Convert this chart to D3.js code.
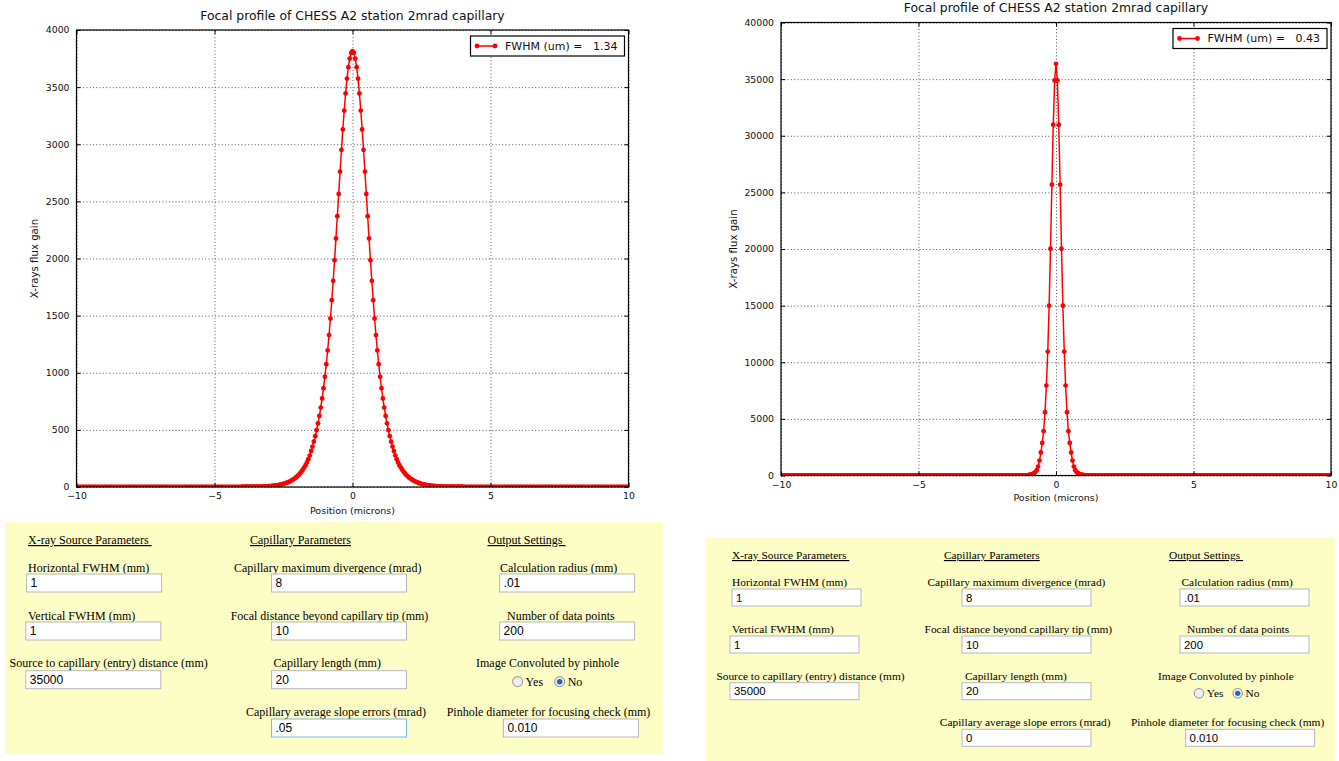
<!DOCTYPE html>
<html>
<head>
<meta charset="utf-8">
<script src="https://cdn.jsdelivr.net/npm/d3@7"></script>
<style>
	body { margin: 0; background: #fff; }
	svg text { white-space: pre; }
</style>
</head>
<body>
<div id="page"></div>
<script>
// focal plane positions (microns): one sample every 0.05 um from -10 to 10
const positions = d3.range(-200, 201).map(i => i / 20)

// flux gain (slope errors .05 mrad)
const gainWithSlope = [
	0, 0, 0, 0, 0, 0, 0, 0, 0, 0,
	0, 0, 0, 0, 0, 0, 0, 0, 0, 0,
	0, 0, 0, 0, 0, 0, 0, 0, 0, 0,
	0, 0, 0, 0, 0, 0, 0, 0, 0, 0,
	0, 0, 0, 0, 0, 0, 0, 0, 0, 0,
	0, 0, 0, 0, 0, 0, 0, 0, 0, 0,
	0, 0, 0, 0, 0, 0, 0, 0, 0, 0,
	0, 0, 0, 0, 0, 0, 0, 0, 0, 0,
	0, 0, 0, 0, 0, 0, 0, 0, 0, 0,
	0, 0, 0, 0, 0, 0, 0, 0, 0, 0,
	1, 1, 1, 1, 1, 1, 1, 1, 1, 1,
	1, 1, 1, 1, 1, 1, 1, 1, 1, 1,
	2, 2, 2, 2, 2, 2, 2, 2, 2, 2,
	2, 3, 3, 3, 4, 4, 5, 5, 6, 7,
	8, 9, 10, 11, 13, 15, 17, 19, 22, 25,
	28, 32, 36, 40, 45, 51, 58, 66, 74, 83,
	93, 105, 119, 134, 151, 170, 191, 215, 243, 275,
	315, 354, 397, 445, 498, 557, 622, 695, 775, 865,
	965, 1075, 1195, 1330, 1475, 1635, 1805, 1985, 2175, 2370,
	2565, 2760, 2950, 3130, 3295, 3445, 3575, 3675, 3750, 3800,
	3815,
	3800, 3750, 3675, 3575, 3445, 3295, 3130, 2950, 2760, 2565,
	2370, 2175, 1985, 1805, 1635, 1475, 1330, 1195, 1075, 965,
	865, 775, 695, 622, 557, 498, 445, 397, 354, 315,
	275, 243, 215, 191, 170, 151, 134, 119, 105, 93,
	83, 74, 66, 58, 51, 45, 40, 36, 32, 28,
	25, 22, 19, 17, 15, 13, 11, 10, 9, 8,
	7, 6, 5, 5, 4, 4, 3, 3, 3, 2,
	2, 2, 2, 2, 2, 2, 2, 2, 2, 2,
	1, 1, 1, 1, 1, 1, 1, 1, 1, 1,
	1, 1, 1, 1, 1, 1, 1, 1, 1, 1,
	0, 0, 0, 0, 0, 0, 0, 0, 0, 0,
	0, 0, 0, 0, 0, 0, 0, 0, 0, 0,
	0, 0, 0, 0, 0, 0, 0, 0, 0, 0,
	0, 0, 0, 0, 0, 0, 0, 0, 0, 0,
	0, 0, 0, 0, 0, 0, 0, 0, 0, 0,
	0, 0, 0, 0, 0, 0, 0, 0, 0, 0,
	0, 0, 0, 0, 0, 0, 0, 0, 0, 0,
	0, 0, 0, 0, 0, 0, 0, 0, 0, 0,
	0, 0, 0, 0, 0, 0, 0, 0, 0, 0,
	0, 0, 0, 0, 0, 0, 0, 0, 0, 0
]

// flux gain (slope errors 0)
const gainNoSlope = [
	0, 0, 0, 0, 0, 0, 0, 0, 0, 0,
	0, 0, 0, 0, 0, 0, 0, 0, 0, 0,
	0, 0, 0, 0, 0, 0, 0, 0, 0, 0,
	0, 0, 0, 0, 0, 0, 0, 0, 0, 0,
	0, 0, 0, 0, 0, 0, 0, 0, 0, 0,
	0, 0, 0, 0, 0, 0, 0, 0, 0, 0,
	0, 0, 0, 0, 0, 0, 0, 0, 0, 0,
	0, 0, 0, 0, 0, 0, 0, 0, 0, 0,
	0, 0, 0, 0, 0, 0, 0, 0, 0, 0,
	0, 0, 0, 0, 0, 0, 0, 0, 0, 0,
	0, 0, 0, 0, 0, 0, 0, 0, 0, 0,
	0, 0, 0, 0, 0, 0, 0, 0, 0, 0,
	0, 0, 0, 0, 0, 0, 0, 0, 0, 0,
	0, 0, 0, 0, 0, 0, 0, 0, 0, 0,
	0, 0, 0, 0, 0, 0, 0, 0, 0, 0,
	0, 0, 0, 0, 0, 0, 0, 0, 0, 0,
	0, 0, 0, 0, 0, 0, 0, 0, 0, 0,
	0, 0, 0, 0, 1, 2, 4, 8, 15, 25,
	40, 65, 95, 140, 200, 300, 470, 790, 1320, 2030,
	2880, 3910, 5590, 7940, 10940, 15000, 20020, 25680, 30970, 34880,
	36350,
	34880, 30970, 25680, 20020, 15000, 10940, 7940, 5590, 3910, 2880,
	2030, 1320, 790, 470, 300, 200, 140, 95, 65, 40,
	25, 15, 8, 4, 2, 1, 0, 0, 0, 0,
	0, 0, 0, 0, 0, 0, 0, 0, 0, 0,
	0, 0, 0, 0, 0, 0, 0, 0, 0, 0,
	0, 0, 0, 0, 0, 0, 0, 0, 0, 0,
	0, 0, 0, 0, 0, 0, 0, 0, 0, 0,
	0, 0, 0, 0, 0, 0, 0, 0, 0, 0,
	0, 0, 0, 0, 0, 0, 0, 0, 0, 0,
	0, 0, 0, 0, 0, 0, 0, 0, 0, 0,
	0, 0, 0, 0, 0, 0, 0, 0, 0, 0,
	0, 0, 0, 0, 0, 0, 0, 0, 0, 0,
	0, 0, 0, 0, 0, 0, 0, 0, 0, 0,
	0, 0, 0, 0, 0, 0, 0, 0, 0, 0,
	0, 0, 0, 0, 0, 0, 0, 0, 0, 0,
	0, 0, 0, 0, 0, 0, 0, 0, 0, 0,
	0, 0, 0, 0, 0, 0, 0, 0, 0, 0,
	0, 0, 0, 0, 0, 0, 0, 0, 0, 0,
	0, 0, 0, 0, 0, 0, 0, 0, 0, 0,
	0, 0, 0, 0, 0, 0, 0, 0, 0, 0
]

// tick labels and chart text
const xTicks = [-10, -5, 0, 5, 10]
const yTicksLeft = [0, 500, 1000, 1500, 2000, 2500, 3000, 3500, 4000]
const yTicksRight = [0, 5000, 10000, 15000, 20000, 25000, 30000, 35000, 40000]
const fwhmValues = ["1.34", "0.43"]
const chartTitle = "Focal profile of CHESS A2 station 2mrad capillary"
const xAxisTitle = "Position (microns)"
const yAxisTitle = "X-rays flux gain"

// form contents under each chart
const sectionTitles = ["X-ray Source Parameters ", "Capillary Parameters", "Output Settings "]
const fieldLabels = [
	["Horizontal FWHM (mm)", "Capillary maximum divergence (mrad)", "Calculation radius (mm)"],
	["Vertical FWHM (mm)", "Focal distance beyond capillary tip (mm)", "Number of data points"],
	["Source to capillary (entry) distance (mm)", "Capillary length (mm)", "Image Convoluted by pinhole"],
	[null, "Capillary average slope errors (mrad)", "Pinhole diameter for focusing check (mm)"]
]
const fieldValuesLeft = [["1", "8", ".01"], ["1", "10", "200"], ["35000", "20", null], [null, ".05", "0.010"]]
const fieldValuesRight = [["1", "8", ".01"], ["1", "10", "200"], ["35000", "20", null], [null, "0", "0.010"]]
const pinholeOptions = ["Yes", "No"]
const pinholeChoice = "No"

const svg = d3
	.select("#page")
	.append("svg")
	.attr("width", 1339)
	.attr("height", 761)

const chartFont = "DejaVu Sans"

// draws one matplotlib-like profile plot
function drawProfile(values, cfg) {
	let xScale = d3.scaleLinear().domain([-10, 10]).range([cfg.left, cfg.right])
	let yScale = d3.scaleLinear().domain([0, cfg.yMax]).range([cfg.bottom, cfg.top])
	let width = cfg.right - cfg.left
	let height = cfg.bottom - cfg.top

	let chart = svg.append("g")

	chart.append("clipPath")
		.attr("id", cfg.id + "-clip")
		.append("rect")
		.attr("x", cfg.left)
		.attr("y", cfg.top)
		.attr("width", width)
		.attr("height", height)

	// dotted grid
	chart.append("g")
		.attr("transform", `translate(0, ${cfg.bottom})`)
		.call(d3.axisBottom(xScale).tickValues(xTicks).tickSize(-height).tickFormat(""))
		.call(g => g.select(".domain").remove())
		.selectAll("line")
		.attr("stroke", "#555")
		.attr("stroke-dasharray", "1,2.3")

	chart.append("g")
		.attr("transform", `translate(${cfg.left}, 0)`)
		.call(d3.axisLeft(yScale).tickValues(cfg.yTicks).tickSize(-width).tickFormat(""))
		.call(g => g.select(".domain").remove())
		.selectAll("line")
		.attr("stroke", "#555")
		.attr("stroke-dasharray", "1,2.3")

	// profile line with dot markers
	let points = positions.map((p, i) => [p, values[i]])
	let plot = chart.append("g").attr("clip-path", `url(#${cfg.id}-clip)`)

	plot.append("path")
		.datum(points)
		.attr("d", d3.line().x(d => xScale(d[0])).y(d => yScale(d[1])))
		.attr("fill", "none")
		.attr("stroke", "#ff0000")
		.attr("stroke-width", 1.5)

	plot.selectAll("circle")
		.data(points)
		.join("circle")
		.attr("cx", d => xScale(d[0]))
		.attr("cy", d => yScale(d[1]))
		.attr("r", 2.4)
		.attr("fill", "#ff0000")

	// frame
	chart.append("rect")
		.attr("x", cfg.left)
		.attr("y", cfg.top)
		.attr("width", width)
		.attr("height", height)
		.attr("fill", "none")
		.attr("stroke", "#000")
		.attr("stroke-width", 1.2)

	// inward ticks on all four sides
	let styleAxis = g => {
		g.select(".domain").remove()
		g.attr("font-family", chartFont).attr("font-size", 9.3)
		g.selectAll("line").attr("stroke", "#000")
		g.selectAll("text").attr("fill", "#111")
	}

	chart.append("g")
		.attr("transform", `translate(0, ${cfg.bottom})`)
		.call(d3.axisBottom(xScale).tickValues(xTicks).tickSizeInner(-4).tickSizeOuter(0).tickPadding(5.5).tickFormat(d3.format("d")))
		.call(styleAxis)

	chart.append("g")
		.attr("transform", `translate(0, ${cfg.top})`)
		.call(d3.axisTop(xScale).tickValues(xTicks).tickSizeInner(-4).tickSizeOuter(0).tickFormat(""))
		.call(styleAxis)

	chart.append("g")
		.attr("transform", `translate(${cfg.left}, 0)`)
		.call(d3.axisLeft(yScale).tickValues(cfg.yTicks).tickSizeInner(-4).tickSizeOuter(0).tickPadding(7).tickFormat(d3.format("d")))
		.call(styleAxis)

	chart.append("g")
		.attr("transform", `translate(${cfg.right}, 0)`)
		.call(d3.axisRight(yScale).tickValues(cfg.yTicks).tickSizeInner(-4).tickSizeOuter(0).tickFormat(""))
		.call(styleAxis)

	// titles
	chart.append("text")
		.attr("x", (cfg.left + cfg.right) / 2)
		.attr("y", cfg.titleY)
		.attr("text-anchor", "middle")
		.attr("font-family", chartFont)
		.attr("font-size", 12.4)
		.attr("fill", "#111")
		.text(chartTitle)

	chart.append("text")
		.attr("x", (cfg.left + cfg.right) / 2)
		.attr("y", cfg.xLabelY)
		.attr("text-anchor", "middle")
		.attr("font-family", chartFont)
		.attr("font-size", 9.5)
		.attr("fill", "#111")
		.text(xAxisTitle)

	chart.append("text")
		.attr("transform", `translate(${cfg.yLabelX}, ${(cfg.top + cfg.bottom) / 2}) rotate(-90)`)
		.attr("dy", "0.35em")
		.attr("text-anchor", "middle")
		.attr("font-family", chartFont)
		.attr("font-size", 10.2)
		.attr("fill", "#111")
		.text(yAxisTitle)

	// legend
	let legend = chart.append("g")
		.attr("transform", `translate(${cfg.right - 4 - 154}, ${cfg.top + 6})`)

	legend.append("rect")
		.attr("width", 154)
		.attr("height", 20)
		.attr("fill", "#fff")
		.attr("stroke", "#000")
		.attr("stroke-width", 1.2)

	legend.append("line")
		.attr("x1", 6.5)
		.attr("x2", 24.5)
		.attr("y1", 10)
		.attr("y2", 10)
		.attr("stroke", "#ff0000")
		.attr("stroke-width", 1.5)

	legend.selectAll("circle")
		.data([6.5, 24.5])
		.join("circle")
		.attr("cx", d => d)
		.attr("cy", 10)
		.attr("r", 2.4)
		.attr("fill", "#ff0000")

	legend.append("text")
		.attr("x", 34.5)
		.attr("y", 10)
		.attr("dy", "0.36em")
		.attr("font-family", chartFont)
		.attr("font-size", 11)
		.attr("fill", "#111")
		.text(`FWHM (um) =   ${cfg.fwhm}`)
}

// draws the yellow parameter form
function drawForm(values, lay) {
	let form = svg.append("g")

	form.append("rect")
		.attr("x", lay.x)
		.attr("y", lay.y)
		.attr("width", lay.w)
		.attr("height", lay.h)
		.attr("fill", "#fdfdc6")

	form.selectAll(".head")
		.data(sectionTitles)
		.join("text")
		.attr("x", (d, i) => lay.headX[i])
		.attr("y", lay.headY)
		.attr("font-family", "Liberation Serif")
		.attr("font-size", lay.font)
		.style("text-decoration", "underline")
		.text(d => d)

	fieldLabels.forEach((row, r) => row.forEach((label, c) => {
		if (!label) return
		form.append("text")
			.attr("x", lay.labelX[r][c])
			.attr("y", lay.rowY[r])
			.attr("font-family", "Liberation Serif")
			.attr("font-size", lay.font)
			.text(label)
	}))

	values.forEach((row, r) => row.forEach((v, c) => {
		if (v === null) return
		let bx = lay.inputX[r][c]
		let by = lay.inputY[r]
		let focused = lay.focus && lay.focus[0] === r && lay.focus[1] === c
		form.append("rect")
			.attr("x", bx)
			.attr("y", by)
			.attr("width", lay.inputW)
			.attr("height", lay.inputH)
			.attr("fill", "#fff")
			.attr("stroke", focused ? "#7eb4ea" : "#b5b8bf")
		form.append("text")
			.attr("x", bx + 4)
			.attr("y", by + lay.inputH / 2 + 4.2)
			.attr("font-family", "Liberation Sans")
			.attr("font-size", lay.font)
			.text(v)
	}))

	// pinhole radio buttons
	pinholeOptions.forEach((opt, i) => {
		let cx = lay.radioX[i]
		form.append("circle")
			.attr("cx", cx)
			.attr("cy", lay.radioY)
			.attr("r", lay.radioR)
			.attr("fill", "#eeeeee")
			.attr("stroke", "#8e8f8f")
		if (opt === pinholeChoice) {
			form.append("circle")
				.attr("cx", cx)
				.attr("cy", lay.radioY)
				.attr("r", lay.radioR * 0.55)
				.attr("fill", "#2465b8")
		}
		form.append("text")
			.attr("x", cx + lay.radioR + 3)
			.attr("y", lay.radioY + 4)
			.attr("font-family", "Liberation Serif")
			.attr("font-size", lay.font)
			.text(opt)
	})
}

drawProfile(gainWithSlope, {
	id: "left", yMax: 4000, yTicks: yTicksLeft, fwhm: fwhmValues[0],
	left: 76.5, right: 628.5, top: 30, bottom: 487,
	titleY: 19.5, xLabelY: 513.5, yLabelX: 34
})

drawProfile(gainNoSlope, {
	id: "right", yMax: 40000, yTicks: yTicksRight, fwhm: fwhmValues[1],
	left: 781, right: 1331, top: 22.5, bottom: 475.5,
	titleY: 11.8, xLabelY: 501, yLabelX: 733
})

drawForm(fieldValuesLeft, {
	x: 5, y: 522, w: 658, h: 232, font: 12,
	headX: [28, 250, 487.5], headY: 544,
	rowY: [572, 619.5, 667, 715.5],
	labelX: [[28, 234, 500], [28, 230.7, 507], [9.5, 273.6, 476], [0, 246, 446.7]],
	inputX: [[26.6, 271.5, 499.6], [25.8, 271.5, 499.6], [25.8, 271.5, 0], [0, 271.5, 503.4]],
	inputY: [574, 622, 670.7, 719], inputW: 135, inputH: 18,
	radioY: 681.7, radioX: [517.6, 559.7], radioR: 5,
	focus: [3, 1]
})

drawForm(fieldValuesRight, {
	x: 706, y: 537.7, w: 629, h: 224, font: 11.4,
	headX: [732, 943.9, 1169], headY: 559,
	rowY: [586, 632.5, 679.5, 726],
	labelX: [[732, 927.5, 1181.5], [732, 924.6, 1187], [716.4, 965, 1158], [0, 939.8, 1131]],
	inputX: [[732, 962, 1180], [730, 962, 1180], [730, 962, 0], [0, 962, 1185.6]],
	inputY: [589, 636, 682.7, 729.3], inputW: 129, inputH: 17,
	radioY: 693.3, radioX: [1199, 1237.7], radioR: 4.8
})
</script>
</body>
</html>
